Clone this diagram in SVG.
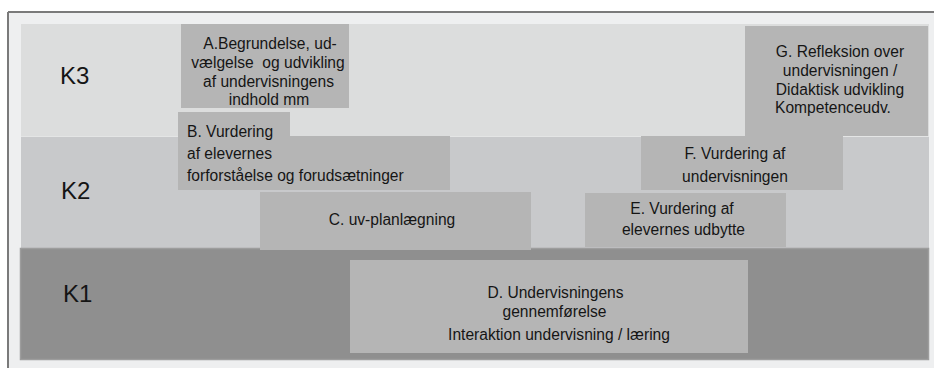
<svg xmlns="http://www.w3.org/2000/svg" width="934" height="368" viewBox="0 0 934 368">
  <style>
    text { font-family: "Liberation Sans", Arial, sans-serif; fill: #151515; }
    .lvl { font-size: 24px; }
    .t { font-size: 15.6px; }
    .m { text-anchor: middle; }
    .box { fill: #b5b5b5; }
  </style>
  <g id="frame">
    <rect x="8" y="12" width="930" height="370" fill="#eeeff0"/>
    <line x1="8" y1="12" x2="934" y2="12" stroke="#7a7a7a" stroke-width="2"/>
    <line x1="8" y1="12" x2="8" y2="368" stroke="#7a7a7a" stroke-width="2"/>
  </g>
  <g id="band-K3">
    <rect x="21" y="24" width="908" height="112" fill="#dcdddd"/>
    <text class="lvl" x="60" y="84">K3</text>
  </g>
  <g id="band-K2">
    <rect x="21" y="136" width="908" height="112" fill="#c8c9cb"/>
    <line x1="21" y1="136.5" x2="929" y2="136.5" stroke="#e4e5e5" stroke-width="1"/>
    <text class="lvl" x="61" y="199">K2</text>
  </g>
  <g id="band-K1">
    <rect x="20.5" y="248.5" width="908" height="111" fill="#8f8f8f" stroke="#9d9d9d" stroke-width="1.5"/>
    <text class="lvl" x="63" y="302">K1</text>
  </g>
  <g id="node-A">
    <rect class="box" x="181" y="24" width="168" height="84"/>
    <text class="t m" x="270" y="49">A.Begrundelse, ud-</text>
    <text class="t m" x="268" y="68" xml:space="preserve">vælgelse  og udvikling</text>
    <text class="t m" x="268.5" y="87">af undervisningens</text>
    <text class="t m" x="269" y="105">indhold mm</text>
  </g>
  <g id="node-B">
    <path class="box" d="M178 112 H290 V136 H450 V190 H178 Z"/>
    <text class="t" x="187" y="137">B. Vurdering</text>
    <text class="t" x="187" y="159">af elevernes</text>
    <text class="t" x="187" y="181">forforståelse og forudsætninger</text>
  </g>
  <g id="node-C">
    <rect class="box" x="260" y="192" width="271" height="58"/>
    <text class="t m" x="392" y="225">C. uv-planlægning</text>
  </g>
  <g id="node-D">
    <rect class="box" x="350" y="260" width="398" height="93"/>
    <text class="t m" x="555.5" y="298">D. Undervisningens</text>
    <text class="t m" x="554.5" y="317">gennemførelse</text>
    <text class="t m" x="559" y="340">Interaktion undervisning / læring</text>
  </g>
  <g id="node-E">
    <rect class="box" x="585" y="193" width="201" height="54"/>
    <text class="t m" x="682" y="214">E. Vurdering af</text>
    <text class="t m" x="683.5" y="235">elevernes udbytte</text>
  </g>
  <g id="node-F">
    <rect class="box" x="641" y="136" width="202" height="54"/>
    <text class="t m" x="735" y="159">F. Vurdering af</text>
    <text class="t m" x="735" y="182">undervisningen</text>
  </g>
  <g id="node-G">
    <rect class="box" x="745" y="26" width="183" height="110"/>
    <text class="t m" x="840" y="57">G. Refleksion over</text>
    <text class="t m" x="840" y="76">undervisningen /</text>
    <text class="t m" x="840" y="95">Didaktisk udvikling</text>
    <text class="t" x="775" y="113">Kompetenceudv.</text>
  </g>
  <g id="connectors"/>
</svg>
